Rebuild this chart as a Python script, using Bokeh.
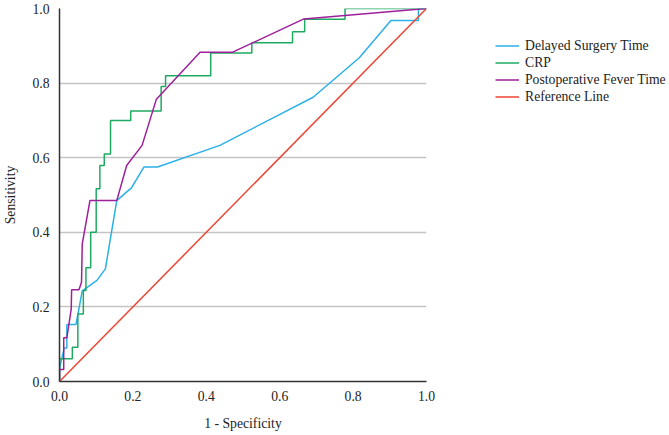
from bokeh.plotting import figure
from bokeh.layouts import row
from bokeh.models import Legend, LegendItem, Range1d, FixedTicker
from bokeh.embed import file_html
from bokeh.resources import INLINE

# ROC curve vertices (1 - specificity, sensitivity)
delay_fpr = [0, 0, 0.013, 0.020, 0.020, 0.045, 0.062, 0.102, 0.125, 0.156, 0.196, 0.230, 0.267,
             0.437, 0.691, 0.817, 0.903, 0.978, 0.978, 1.0]
delay_tpr = [0, 0.035, 0.090, 0.090, 0.153, 0.153, 0.243, 0.271, 0.302, 0.485, 0.519, 0.575, 0.575,
             0.633, 0.762, 0.868, 0.968, 0.968, 1.0, 1.0]

crp_fpr = [0, 0, 0.035, 0.035, 0.050, 0.050, 0.065, 0.065, 0.072, 0.072, 0.085, 0.085, 0.100, 0.100,
           0.110, 0.110, 0.122, 0.122, 0.139, 0.139, 0.194, 0.194, 0.277, 0.277, 0.289, 0.289,
           0.412, 0.412, 0.524, 0.524, 0.635, 0.635, 0.668, 0.668, 0.778, 0.778, 1.0]
crp_tpr = [0, 0.061, 0.061, 0.092, 0.092, 0.181, 0.181, 0.244, 0.244, 0.305, 0.305, 0.400, 0.400, 0.517,
           0.517, 0.579, 0.579, 0.610, 0.610, 0.700, 0.700, 0.725, 0.725, 0.791, 0.791, 0.820,
           0.820, 0.881, 0.881, 0.908, 0.908, 0.938, 0.938, 0.971, 0.971, 1.0, 1.0]

fever_fpr = [0, 0, 0.0115, 0.0115, 0.020, 0.032, 0.033, 0.053, 0.060, 0.062, 0.083, 0.156, 0.183,
             0.225, 0.264, 0.383, 0.472, 0.666, 1.0]
fever_tpr = [0, 0.032, 0.032, 0.117, 0.117, 0.195, 0.246, 0.246, 0.266, 0.369, 0.485, 0.485, 0.579,
             0.633, 0.757, 0.883, 0.883, 0.972, 1.0]

ref_x = [0, 1]
ref_y = [0, 1]

series_names = ["Delayed Surgery Time", "CRP", "Postoperative Fever Time", "Reference Line"]
series_colors = ["#2BB0EA", "#1FAA62", "#9E1F9C", "#EE4433"]
tick_values = [0.0, 0.2, 0.4, 0.6, 0.8, 1.0]

FONT = "Liberation Serif"
FONT_SIZE = "13.7px"
curves = [(delay_fpr, delay_tpr), (crp_fpr, crp_tpr), (fever_fpr, fever_tpr), (ref_x, ref_y)]

# Main ROC plot
p = figure(width=438, height=435, output_backend="svg", toolbar_location=None,
           x_range=Range1d(0, 1), y_range=Range1d(0, 1),
           min_border_left=52, min_border_right=12, min_border_top=8, min_border_bottom=54)
p.outline_line_color = None
p.background_fill_color = "white"
p.border_fill_color = "white"

for (xs, ys), color in zip(curves, series_colors):
    p.line(xs, ys, line_color=color, line_width=1.5)

# Grid: horizontal lines only
p.xgrid.grid_line_color = None
p.ygrid.grid_line_color = "#C4C4C4"
p.ygrid.grid_line_width = 1.5
p.ygrid.ticker = FixedTicker(ticks=tick_values)

for ax in (p.xaxis, p.yaxis):
    ax.ticker = FixedTicker(ticks=tick_values)
    ax.major_tick_line_color = None
    ax.minor_tick_line_color = None
    ax.axis_line_color = "#333333"
    ax.axis_line_width = 1.5
    ax.major_label_text_font = FONT
    ax.major_label_text_font_size = FONT_SIZE
    ax.major_label_text_color = "#222222"
    ax.axis_label_text_font = FONT
    ax.axis_label_text_font_size = FONT_SIZE
    ax.axis_label_text_font_style = "normal"
    ax.axis_label_text_color = "#222222"

p.xaxis.major_label_overrides = {v: f"{v:.1f}" for v in tick_values}
p.yaxis.major_label_overrides = {v: f"{v:.1f}" for v in tick_values}
p.xaxis.axis_label = "1 - Specificity"
p.yaxis.axis_label = "Sensitivity"
p.xaxis.major_label_standoff = 3
p.yaxis.major_label_standoff = 4
p.xaxis.axis_label_standoff = 12
p.yaxis.axis_label_standoff = 11

# Legend panel to the right of the plot; its view range sits away from the curves,
# so only the legend entries show there
lp = figure(width=231, height=435, output_backend="svg", toolbar_location=None,
            x_range=Range1d(2, 3), y_range=Range1d(2, 3),
            x_axis_location=None, y_axis_location=None, min_border=0)
lp.outline_line_color = None
lp.grid.grid_line_color = None
legend_renderers = [lp.line(xs, ys, line_color=c, line_width=1.5)
                    for (xs, ys), c in zip(curves, series_colors)]

legend = Legend(items=[LegendItem(label=n, renderers=[r]) for n, r in zip(series_names, legend_renderers)],
                location=(57, 276), orientation="vertical",
                padding=0, margin=0, spacing=0, label_height=17, glyph_height=17,
                glyph_width=24, label_standoff=6,
                label_text_font=FONT, label_text_font_size=FONT_SIZE, label_text_color="#222222",
                border_line_color=None, background_fill_alpha=0)
lp.add_layout(legend, "center")

layout = row(p, lp)
open("out.html", "w").write(file_html(layout, INLINE))
